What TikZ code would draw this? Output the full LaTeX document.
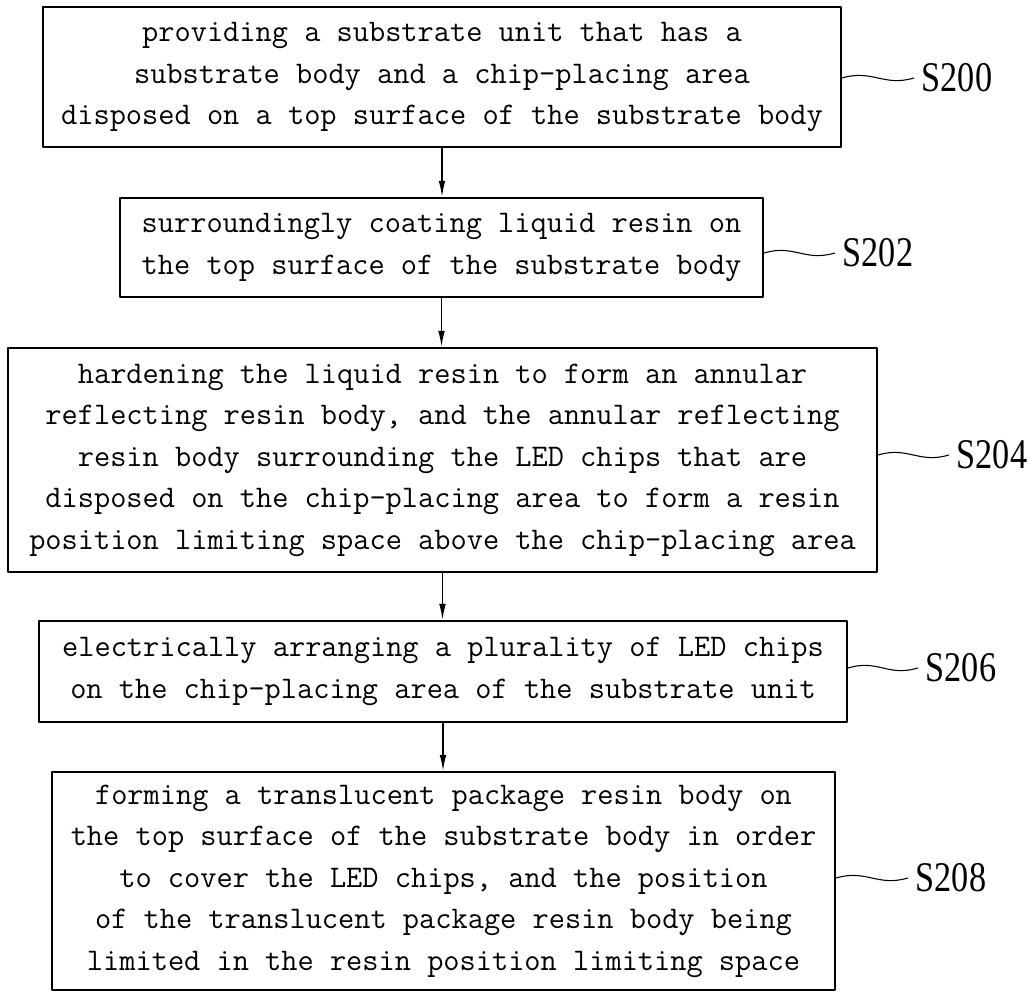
\documentclass[tikz,border=0pt]{standalone}
\usepackage{fontspec}
\newfontfamily\stepfont[FakeStretch=0.81]{Liberation Serif}
\usetikzlibrary{arrows.meta}
\tikzset{
    stepbox/.style={
        draw, line width=1.6pt, align=center, inner sep=0pt,
        font=\fontsize{23.6}{31.1}\ttfamily
    },
    steplab/.style={
        inner sep=0pt, outer xsep=6pt,
        font=\fontsize{31.7}{36}\stepfont
    },
    flow/.style={line width=1.1pt, -{Latex[length=12pt,width=5pt]}},
    lead/.style={line width=0.8pt}
}

\begin{document}
\begin{tikzpicture}[x=0.75pt,y=-0.75pt,line cap=round,line join=round]

\useasboundingbox (0,0) rectangle (1035,993);

% process steps
\node[stepbox, minimum width=598.5pt, minimum height=105pt] (s200) at (442,77)
  {providing a substrate unit that has a\\
   substrate body and a chip-placing area\\
   disposed on a top surface of the substrate body};

\node[stepbox, minimum width=482.25pt, minimum height=74.25pt] (s202) at (441.5,247.5)
  {surroundingly coating liquid resin on\\
   the top surface of the substrate body};

\node[stepbox, minimum width=651.75pt, minimum height=168pt] (s204) at (442.5,460)
  {hardening the liquid resin to form an annular\\
   reflecting resin body, and the annular reflecting\\
   resin body surrounding the LED chips that are\\
   disposed on the chip-placing area to form a resin\\
   position limiting space above the chip-placing area};

\node[stepbox, minimum width=606pt, minimum height=75.75pt] (s206) at (443,671.5)
  {electrically arranging a plurality of LED chips\\
   on the chip-placing area of the substrate unit};

\node[stepbox, minimum width=587.25pt, minimum height=163.5pt] (s208) at (443.5,881)
  {forming a translucent package resin body on\\
   the top surface of the substrate body in order\\
   to cover the LED chips, and the position\\
   of the translucent package resin body being\\
   limited in the resin position limiting space};

% step numbers
\node[steplab] (l200) at (957,78)  {S200};
\node[steplab] (l202) at (878,253) {S202};
\node[steplab] (l204) at (992,455) {S204};
\node[steplab] (l206) at (961,668) {S206};
\node[steplab] (l208) at (951,878) {S208};

% arrows between steps
\draw[flow] (s200.south) -- (s200.south |- s202.north);
\draw[flow] (s202.south) -- (s202.south |- s204.north);
\draw[flow] (s204.south) -- (s204.south |- s206.north);
\draw[flow] (s206.south) -- (s206.south |- s208.north);

% wavy leaders to the step numbers
\foreach \s in {200,202,204,206,208} {
  \draw[lead] (l\s.west -| s\s.east) .. controls +(30,-9) and +(-30,9) .. (l\s.west);
}

\end{tikzpicture}
\end{document}
